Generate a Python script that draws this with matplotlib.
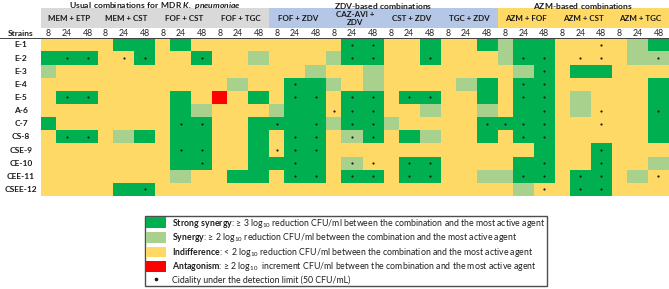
import numpy as np
from matplotlib import pyplot as plt
from matplotlib import colors
from matplotlib.patches import Patch, Rectangle
from matplotlib.lines import Line2D

plt.rcParams['font.family'] = ['Lato', 'DejaVu Sans']
plt.rcParams['mathtext.fontset'] = 'custom'
plt.rcParams['mathtext.rm'] = 'Lato'
plt.rcParams['mathtext.bf'] = 'Lato:bold'
plt.rcParams['mathtext.bfit'] = 'Lato:bold:italic'

strains = ['E-1', 'E-2', 'E-3', 'E-4', 'E-5', 'A-6', 'C-7', 'CS-8',
           'CSE-9', 'CE-10', 'CEE-11', 'CSEE-12']
combos = ['MEM + ETP', 'MEM + CST', 'FOF + CST', 'FOF + TGC', 'FOF + ZDV',
          'CAZ-AVI +\nZDV', 'CST + ZDV', 'TGC + ZDV', 'AZM + FOF',
          'AZM + CST', 'AZM + TGC']
times = ['8', '24', '48']
# (title, first combo, last combo + 1, header colour)
families = [(r'$\mathbf{Usual\ combinations\ for\ MDR}$ $\mathbfit{K.\ pneumoniae}$', 0, 4, '#d9d9d9'),
            (r'$\mathbf{ZDV\text{-}based\ combinations}$', 4, 8, '#b4c7e7'),
            (r'$\mathbf{AZM\text{-}based\ combinations}$', 8, 11, '#ffd966')]

# Y indifference, L synergy, G strong synergy, R antagonism, * cidality
effects = [
    "Y Y Y  Y G G  Y G Y  Y Y Y  Y Y Y  Y G* G*  Y Y G  Y Y G  L G G  Y Y Y*  Y L G",
    "G G* G*  Y Y* G*  Y Y G*  Y Y L  Y Y Y  L G* G*  Y Y G*  Y Y Y  L G* G*  Y Y* Y*  Y L L*",
    "L Y Y  Y Y Y  Y Y Y  Y Y Y  Y Y L  Y Y L  Y Y Y  Y Y Y  Y L G*  Y G G  Y Y Y",
    "Y Y Y  Y Y Y  Y Y Y  Y L Y  Y G* G  L Y L  Y Y Y  Y L G  Y G* G*  Y Y Y  Y Y G",
    "Y G* G*  Y Y Y  Y G Y  R Y G  Y G* G*  Y G* G*  Y G* G*  Y Y G  Y G* G*  Y L Y  Y Y G",
    "Y Y Y  Y Y Y  Y G L  Y Y Y  L G G  Y* G* G*  Y Y L  Y Y L  Y G G*  Y L Y*  Y Y G*",
    "G Y Y  Y Y Y  Y G* G*  Y Y G  G* G G*  L G* G*  L Y Y  Y Y G*  G* G* G*  Y Y Y*  Y Y G",
    "Y G* G*  Y L G  Y G G  Y Y G  Y G* G*  Y L* G*  Y G L  Y Y G  Y G* G*  Y Y Y  Y Y G",
    "Y Y Y  Y Y Y  Y G* G*  Y Y G  Y* G* G*  Y Y Y  Y Y Y  Y Y Y  Y Y G  Y Y G*  Y Y Y",
    "Y Y Y  Y Y Y  Y G G*  Y Y G  G G* G  Y L* Y*  Y G* G*  Y Y Y  Y G G*  Y Y G*  Y Y L",
    "Y Y Y  Y Y Y  Y L Y  Y G G  Y G* G*  Y G* G*  Y G* G*  Y Y L  L G* G*  Y G* G*  Y L Y*",
    "Y Y Y  Y G G*  Y Y Y  Y Y Y  Y Y Y  Y Y Y  Y Y Y  Y Y Y  Y L Y*  Y G* G*  Y Y Y",
]

codes = {'Y': 0, 'L': 1, 'G': 2, 'R': 3}
grid = np.array([[codes[c[0]] for c in row.split()] for row in effects])
dots = np.array([[c.endswith('*') for c in row.split()] for row in effects])

cmap = colors.ListedColormap(['#ffd966', '#a9d18e', '#00b050', '#ff0000'])
norm = colors.BoundaryNorm([-0.5, 0.5, 1.5, 2.5, 3.5], cmap.N)

# "8" column is narrower than "24" and "48"
frac = np.cumsum([0, 15, 21, 21]) / 57.0
edges = np.concatenate([g + frac[:3] for g in range(len(combos))] + [[len(combos)]])
centers = (edges[:-1] + edges[1:]) / 2

fig = plt.figure(figsize=(6.69, 2.89), dpi=100)
ax = fig.add_axes([41 / 669, 93 / 289, 628 / 669, 157.7 / 289])
ax.pcolormesh(edges, np.arange(len(strains) + 1), grid, cmap=cmap, norm=norm)
yy, xx = np.nonzero(dots)
ax.scatter(centers[xx], yy + 0.5, s=2.5, c='#1a1a1a', marker='o', linewidths=0, zorder=3)
ax.set_xlim(0, len(combos))
ax.set_ylim(len(strains), 0)
ax.axis('off')

# header
for title, a, b, col in families:
    ax.add_patch(Rectangle((a, -2.28), b - a, 1.52, facecolor=col, edgecolor='none',
                           clip_on=False))
    ax.text((a + b) / 2, -2.47, title, ha='center', va='center', fontsize=6.1,
            color='#1a1a1a', clip_on=False)
for g, name in enumerate(combos):
    ax.text(g + 0.5, -1.52, name, ha='center', va='center', fontsize=5.8,
            fontweight='bold', color='#1a1a1a', linespacing=1.1, clip_on=False)
for i, c in enumerate(centers):
    ax.text(c, -0.37, times[i % 3], ha='center', va='center', fontsize=6.3,
            color='#262626', clip_on=False)
ax.text(-0.35, -0.37, 'Strains', ha='center', va='center', fontsize=6,
        fontweight='bold', color='#1a1a1a', clip_on=False)
ax.plot([-0.72, len(combos)], [-0.02, -0.02], color='#404040', lw=0.7, clip_on=False)
for i, s in enumerate(strains):
    ax.text(-0.35, i + 0.5, s, ha='center', va='center', fontsize=6,
            fontweight='bold', color='#1a1a1a', clip_on=False)

# legend
handles = [Patch(facecolor='#00b050'), Patch(facecolor='#a9d18e'),
           Patch(facecolor='#ffd966'), Patch(facecolor='#ff0000'),
           Line2D([], [], marker='o', ms=1.6, color='#1a1a1a', linestyle='none')]
labels = [r'$\mathbf{Strong\ synergy}$: ≥ 3 log$_{10}$ reduction CFU/ml between the combination and the most active agent',
          r'$\mathbf{Synergy}$: ≥ 2 log$_{10}$ reduction CFU/ml between the combination and the most active agent',
          r'$\mathbf{Indifference}$: < 2 log$_{10}$ reduction CFU/ml between the combination and the most active agent',
          r'$\mathbf{Antagonism}$: ≥ 2 log$_{10}$  increment CFU/ml between the combination and the most active agent',
          'Cidality under the detection limit (50 CFU/mL)']
leg = fig.legend(handles, labels, loc='upper left', bbox_to_anchor=(145 / 669, 1 - 215.5 / 289),
                 fontsize=6.3, frameon=True, fancybox=False, edgecolor='#202020',
                 handlelength=2.3, handleheight=1.48, handletextpad=0.7,
                 labelspacing=0.18, borderpad=0.12, borderaxespad=0)
leg.get_frame().set_linewidth(1.0)
for t in leg.get_texts():
    t.set_color('#1f1f1f')

fig.savefig('out.png', dpi=100)
